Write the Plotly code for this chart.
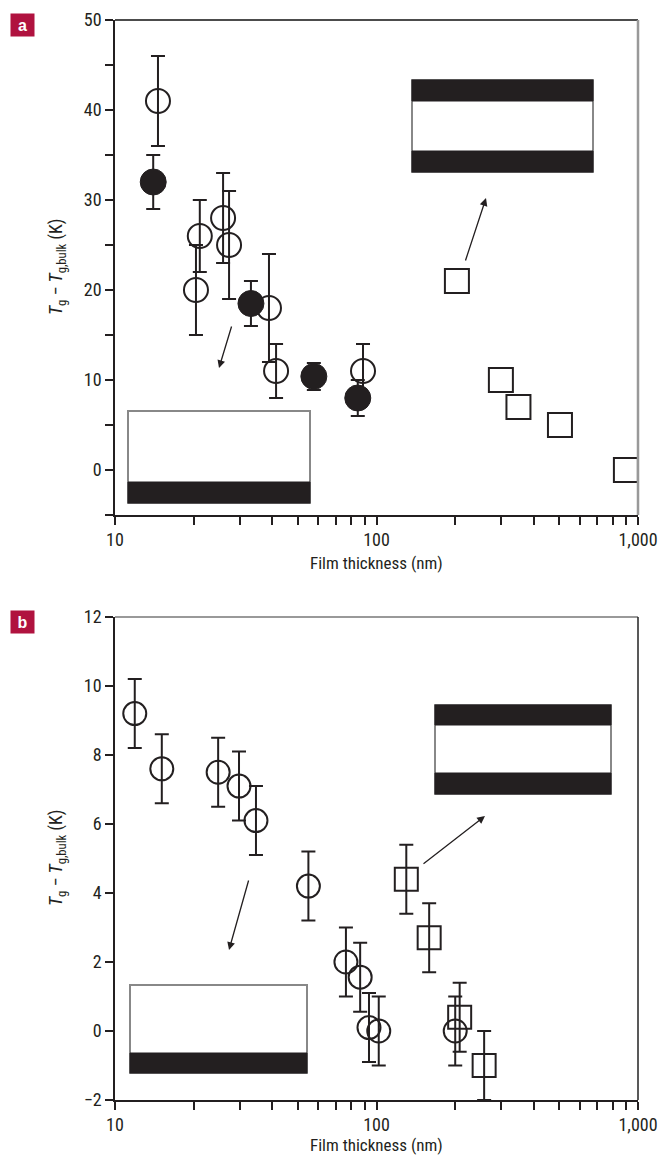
import plotly.graph_objects as go

# ---------------- data: panel a ----------------
a_open_x = [14.6, 21.1, 20.4, 25.9, 27.3, 38.8, 41.3, 88.8]
a_open_y = [41, 26, 20, 28, 25, 18, 11, 11]
a_open_err = [5, 4, 5, 5, 6, 6, 3, 3]

a_fill_x = [14.0, 33.1, 57.6, 84.8]
a_fill_y = [32, 18.5, 10.4, 8]
a_fill_err = [3, 2.5, 1.5, 2]

a_sq_x = [203, 299, 349, 503, 899]
a_sq_y = [21, 10, 7, 5, 0]

# ---------------- data: panel b ----------------
b_open_x = [11.9, 15.1, 24.8, 29.8, 34.6, 54.9, 76.4, 86.6, 93.6, 102, 200]
b_open_y = [9.2, 7.6, 7.5, 7.1, 6.1, 4.2, 2.0, 1.56, 0.1, 0.0, 0.0]
b_open_err = [1, 1, 1, 1, 1, 1, 1, 1, 1, 1, 1]

b_sq_x = [130, 159, 208, 258]
b_sq_y = [4.4, 2.7, 0.4, -1.0]
b_sq_err = [1, 1, 1, 1]

x_tickvals = [10, 20, 30, 40, 50, 60, 70, 80, 90, 100, 200, 300, 400, 500, 600, 700, 800, 900, 1000]
x_ticktext = ["10", "", "", "", "", "", "", "", "", "100", "", "", "", "", "", "", "", "", "1,000"]
a_y_tickvals = [-5, 0, 5, 10, 15, 20, 25, 30, 35, 40, 45, 50]
a_y_ticktext = ["", "0", "", "10", "", "20", "", "30", "", "40", "", "50"]
b_y_tickvals = [-2, 0, 2, 4, 6, 8, 10, 12]
b_y_ticktext = ["\u22122", "0", "2", "4", "6", "8", "10", "12"]

# ---------------- layout helpers (page pixels) ----------------
W, H = 660, 1158
L, T = 115, 20
R = W - 638
B = H - 1100
PW, PH = W - L - R, H - T - B


def px(xp):
    return (xp - L) / PW


def py(yp):
    return (H - B - yp) / PH


FONT = "Liberation Sans Narrow, Roboto Condensed, Arial Narrow, Liberation Sans, sans-serif"
INK = "#231f20"

fig = go.Figure()

err_style = dict(type="data", thickness=2, width=7, color=INK)

fig.add_trace(go.Scatter(
    x=a_open_x, y=a_open_y, mode="markers", xaxis="x", yaxis="y",
    error_y=dict(array=a_open_err, **err_style),
    marker=dict(symbol="circle", size=24, color="rgba(255,255,255,0)", line=dict(color=INK, width=2)),
    showlegend=False))
fig.add_trace(go.Scatter(
    x=a_fill_x, y=a_fill_y, mode="markers", xaxis="x", yaxis="y",
    error_y=dict(array=a_fill_err, **err_style),
    marker=dict(symbol="circle", size=26, color=INK, line=dict(color=INK, width=1)),
    showlegend=False))
fig.add_trace(go.Scatter(
    x=a_sq_x, y=a_sq_y, mode="markers", xaxis="x", yaxis="y",
    marker=dict(symbol="square", size=24, color="white", line=dict(color=INK, width=2)),
    showlegend=False))

fig.add_trace(go.Scatter(
    x=b_open_x, y=b_open_y, mode="markers", xaxis="x2", yaxis="y2",
    error_y=dict(array=b_open_err, **err_style),
    marker=dict(symbol="circle", size=23, color="rgba(255,255,255,0)", line=dict(color=INK, width=2)),
    showlegend=False))
fig.add_trace(go.Scatter(
    x=b_sq_x, y=b_sq_y, mode="markers", xaxis="x2", yaxis="y2",
    error_y=dict(array=b_sq_err, **err_style),
    marker=dict(symbol="square", size=23, color="rgba(255,255,255,0)", line=dict(color=INK, width=2)),
    showlegend=False))

xcommon = dict(type="log", range=[1, 3], tickmode="array", tickvals=x_tickvals, ticktext=x_ticktext,
               tickangle=0, automargin=False, ticks="outside", ticklen=8, tickwidth=1.5, tickcolor=INK,
               showline=True, linecolor=INK, linewidth=1.5, showgrid=False, zeroline=False,
               tickfont=dict(family=FONT, size=18, color=INK))
ycommon = dict(tickmode="array", automargin=False, ticks="outside", ticklen=8, tickwidth=1.5,
               tickcolor=INK, showline=True, linecolor=INK, linewidth=1.5, showgrid=False,
               zeroline=False, tickfont=dict(family=FONT, size=18, color=INK))

ya_bot, yb_top = py(515), py(617)

fig.update_layout(
    template="none",
    width=W, height=H, margin=dict(l=L, r=R, t=T, b=B, autoexpand=False),
    paper_bgcolor="white", plot_bgcolor="white",
    xaxis=dict(domain=[0, 1], anchor="y", **xcommon),
    yaxis=dict(domain=[ya_bot, 1], anchor="x", range=[-5, 50], tickvals=a_y_tickvals,
               ticktext=a_y_ticktext, **ycommon),
    xaxis2=dict(domain=[0, 1], anchor="y2", **xcommon),
    yaxis2=dict(domain=[0, yb_top], anchor="x2", range=[-2, 12], tickvals=b_y_tickvals,
                ticktext=b_y_ticktext, **ycommon),
)

shapes = []
# frame lines (top/right)
shapes.append(dict(type="line", xref="paper", yref="paper", x0=0, x1=1, y0=1, y1=1,
                   line=dict(color="#111", width=1.5)))
shapes.append(dict(type="line", xref="paper", yref="paper", x0=1, x1=1, y0=ya_bot, y1=1,
                   line=dict(color="#999", width=2.5)))
shapes.append(dict(type="line", xref="paper", yref="paper", x0=0, x1=1, y0=yb_top, y1=yb_top,
                   line=dict(color="#777", width=1.5)))
shapes.append(dict(type="line", xref="paper", yref="paper", x0=1, x1=1, y0=0, y1=yb_top,
                   line=dict(color="#222", width=1.5)))


def rect(x0, y0, x1, y1, fill, line="rgba(0,0,0,0)", lw=0):
    shapes.append(dict(type="rect", xref="paper", yref="paper", x0=px(x0), x1=px(x1),
                       y0=py(y1), y1=py(y0), fillcolor=fill, line=dict(color=line, width=lw),
                       layer="above"))


# panel a insets
rect(128, 411, 310, 503, "white", "#888", 2)
rect(128, 482, 310, 503, INK, INK, 1)
rect(412, 80, 593, 172, "white", "#888", 2)
rect(412, 80, 593, 101, INK, INK, 1)
rect(412, 151, 593, 172, INK, INK, 1)
# panel b insets
rect(130, 985, 307, 1073, "white", "#888", 2)
rect(130, 1053, 307, 1073, INK, INK, 1)
rect(435, 705, 611, 794, "white", "#888", 2)
rect(435, 705, 611, 725, INK, INK, 1)
rect(435, 773, 611, 794, INK, INK, 1)

annotations = []


def arrow(x0, y0, x1, y1):
    annotations.append(dict(xref="paper", yref="paper", x=px(x1), y=py(y1), ax=x0 - x1, ay=y0 - y1,
                            axref="pixel", ayref="pixel", showarrow=True, arrowhead=2,
                            arrowsize=1.2, arrowwidth=1.3, arrowcolor=INK, text=""))


arrow(232, 325, 219, 368)
arrow(465, 262, 486, 198)
arrow(249, 879, 229, 950)
arrow(422, 865, 485, 816)

ytitle = "<i>T</i><sub>g</sub> \u2212 <i>T</i><sub>g,bulk</sub> (K)"
for yc in (267, 858):
    annotations.append(dict(xref="paper", yref="paper", x=px(57), y=py(yc), text=ytitle,
                            textangle=-90, showarrow=False, xanchor="center", yanchor="middle",
                            font=dict(family=FONT, size=18, color=INK)))
for yc in (563, 1145):
    annotations.append(dict(xref="paper", yref="paper", x=px(376), y=py(yc),
                            text="Film thickness (nm)", showarrow=False, xanchor="center",
                            yanchor="middle", font=dict(family=FONT, size=17, color=INK)))

for lab, yc in (("a", 25), ("b", 622)):
    annotations.append(dict(xref="paper", yref="paper", x=px(22.5), y=py(yc), text="<b>%s</b>" % lab,
                            showarrow=False, xanchor="center", yanchor="middle",
                            bgcolor="#b0123f", width=19, height=18, borderpad=2,
                            font=dict(family="Liberation Sans, Arial, sans-serif", size=16, color="white")))

fig.update_layout(shapes=shapes, annotations=annotations)
fig.write_html("out.html", config={"displayModeBar": False},
               post_script="document.body.style.margin='0';document.body.style.overflow='hidden';")
